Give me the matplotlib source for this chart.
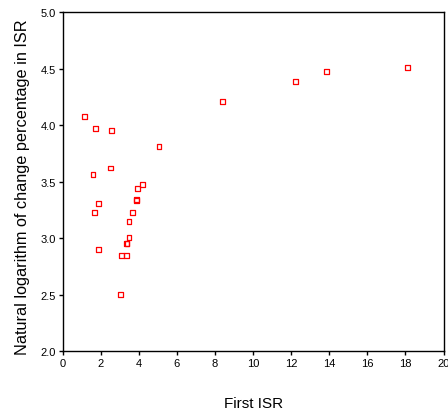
import matplotlib
matplotlib.use("Agg")
import matplotlib.pyplot as plt

plt.rcParams["font.family"] = ["Liberation Sans", "DejaVu Sans"]

first_isr = [1.15, 1.73, 2.56, 5.06, 2.52, 1.59, 4.18, 3.92, 3.86, 3.88,
             1.86, 1.65, 3.66, 3.48, 3.48, 3.36, 3.38, 1.86, 3.08, 3.34,
             3.03, 8.38, 12.23, 13.84, 18.11]
log_change = [4.08, 3.97, 3.956, 3.81, 3.62, 3.566, 3.477, 3.44, 3.34, 3.33,
              3.31, 3.23, 3.23, 3.15, 3.005, 2.956, 2.95, 2.90, 2.846, 2.846,
              2.50, 4.21, 4.386, 4.478, 4.513]

fig = plt.figure(figsize=(4.48, 4.10), dpi=100)
ax = fig.add_axes([0.140, 0.141, 0.850, 0.827])

ax.scatter(first_isr, log_change, marker="s", s=12, facecolors="none",
           edgecolors="red", linewidths=0.9)

ax.set_xlim(0, 20)
ax.set_ylim(2.0, 5.0)
ax.set_xticks(range(0, 21, 2))
ax.set_yticks([2.0, 2.5, 3.0, 3.5, 4.0, 4.5, 5.0])
ax.set_yticklabels(["2.0", "2.5", "3.0", "3.5", "4.0", "4.5", "5.0"])
ax.tick_params(direction="out", length=3, width=1, labelsize=8, pad=2)
for s in ax.spines.values():
    s.set_linewidth(1)

ax.set_xlabel("First ISR", fontsize=11, labelpad=20)
ax.set_ylabel("Natural logarithm of change percentage in ISR", fontsize=11.7)
ax.yaxis.set_label_coords(-0.085, 0.487)

fig.savefig("out.png", dpi=100)
